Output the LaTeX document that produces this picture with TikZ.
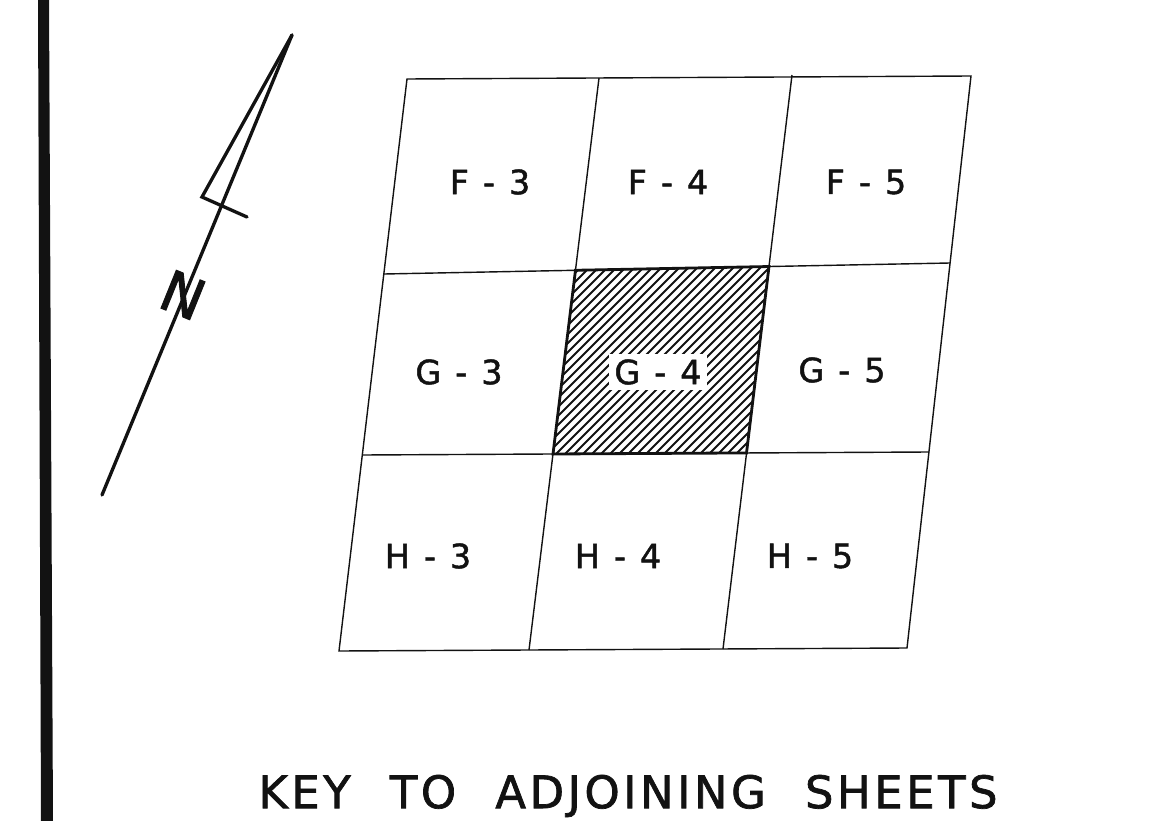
\documentclass[tikz,border=0pt]{standalone}
\usepackage{fontspec}
\newfontfamily\keyfont{DejaVu Sans}[FakeBold=1.4]
\newfontfamily\keytitlefont{DejaVu Sans}[LetterSpace=8,WordSpace=2.2,FakeBold=1.6]
\definecolor{keyink}{RGB}{18,18,18}
\tikzset{
  keygrid/.style={draw=keyink, line width=0.8pt},
  keycellline/.style={draw=keyink, line width=1.6pt},
  keyhatch/.style={keyink, line width=1.05pt},
  keylabel/.style={font=\keyfont\fontsize{19}{19}\selectfont, text=keyink,
    inner sep=1pt},
  keyhole/.style={keylabel, fill=white, inner sep=3pt},
  keytitle/.style={font=\keytitlefont\fontsize{25.5}{25.5}\selectfont, text=keyink},
  northline/.style={draw=keyink, line width=1.9pt, line cap=round,
    line join=miter},
}
\newcommand\sheetname[2]{#1\hspace{0.42em}-\hspace{0.42em}#2}

\begin{document}
\begin{tikzpicture}[x=0.02cm, y=-0.02cm]
  \useasboundingbox (0,0) rectangle (1163,821);
  % binding edge
  \fill[keyink] (38,0) -- (49,0) -- (53,821) -- (41,821) -- cycle;

  % north arrow
  \coordinate (tip) at (292,35);
  \coordinate (heel) at (202,197);
  \coordinate (barb) at (247,217);
  \coordinate (foot) at (102,495);
  \draw[northline] (tip) -- (foot);
  \draw[northline] (tip) -- (heel) -- (barb);
  \node[font=\keytitlefont\fontsize{32}{32}\selectfont, text=keyink, rotate=-22]
    (north) at (183,295) {N};

  % sheet grid
  \coordinate (nw) at (407,79);
  \coordinate (ne) at (971,76);
  \coordinate (sw) at (339,651);
  \coordinate (se) at (907,648);
  \coordinate (t1) at (599,78);
  \coordinate (t2) at (792,75);
  \coordinate (b1) at (529,650);
  \coordinate (b2) at (723,649);
  \coordinate (l1) at (384,274);
  \coordinate (l2) at (362,455);
  \coordinate (r1) at (950,263);
  \coordinate (r2) at (929,452);
  \coordinate (g4nw) at (intersection of t1--b1 and l1--r1);
  \coordinate (g4ne) at (intersection of t2--b2 and l1--r1);
  \coordinate (g4sw) at (intersection of t1--b1 and l2--r2);
  \coordinate (g4se) at (intersection of t2--b2 and l2--r2);

  % this sheet
  \begin{scope}
    \clip (g4nw) -- (g4ne) -- (g4se) -- (g4sw) -- cycle;
    \foreach \k in {360,369,...,750}
      \draw[keyhatch] (\k,470) -- ++(230,-230);
  \end{scope}

  \draw[keygrid] (nw) -- (ne) -- (se) -- (sw) -- cycle;
  \draw[keygrid] (t1) -- (b1);
  \draw[keygrid] (t2) -- (b2);
  \draw[keygrid] (l1) -- (r1);
  \draw[keygrid] (l2) -- (r2);
  \draw[keycellline] (g4nw) -- (g4ne) -- (g4se) -- (g4sw) -- cycle;

  \node[keylabel] (f3) at (490,182) {\sheetname{F}{3}};
  \node[keylabel] (f4) at (668,182) {\sheetname{F}{4}};
  \node[keylabel] (f5) at (866,182) {\sheetname{F}{5}};
  \node[keylabel] (g3) at (459,372) {\sheetname{G}{3}};
  \node[keyhole]  (g4) at (658,372) {\sheetname{G}{4}};
  \node[keylabel] (g5) at (842,370) {\sheetname{G}{5}};
  \node[keylabel] (h3) at (428,556) {\sheetname{H}{3}};
  \node[keylabel] (h4) at (618,556) {\sheetname{H}{4}};
  \node[keylabel] (h5) at (810,556) {\sheetname{H}{5}};

  \node[keytitle] (title) at (628,796) {KEY TO ADJOINING SHEETS};
\end{tikzpicture}
\end{document}
